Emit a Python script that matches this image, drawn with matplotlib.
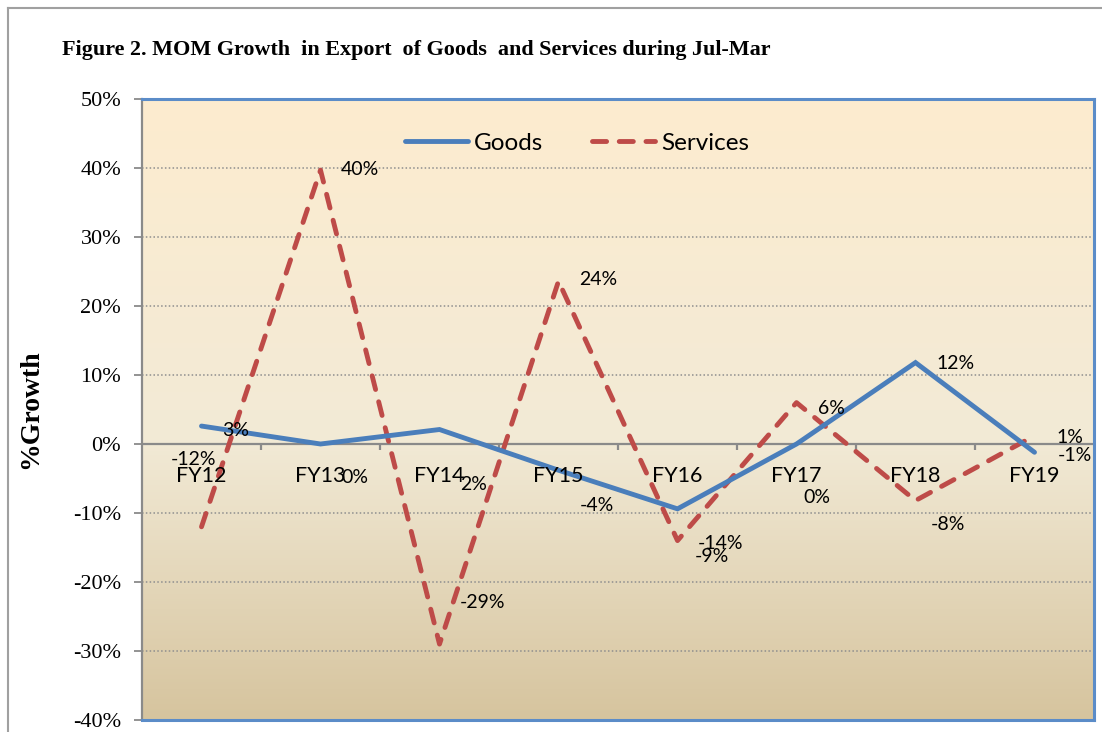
import numpy as np
import matplotlib
matplotlib.use("Agg")
import matplotlib.pyplot as plt
from matplotlib.lines import Line2D
from matplotlib.colors import LinearSegmentedColormap

# ---- data ----
categories = ["FY12", "FY13", "FY14", "FY15", "FY16", "FY17", "FY18", "FY19"]
goods = [2.6, 0.0, 2.1, -3.8, -9.4, 0.0, 11.8, -1.2]
services = [-12.0, 39.7, -29.0, 23.6, -14.0, 6.0, -8.2, 1.2]
goods_labels = ["3%", "0%", "2%", "-4%", "-9%", "0%", "12%", "-1%"]
services_labels = ["-12%", "40%", "-29%", "24%", "-14%", "6%", "-8%", "1%"]
yticks = [-40, -30, -20, -10, 0, 10, 20, 30, 40, 50]

# label placement (style): offsets in (category units, percentage points)
goods_lab_pos = [(0.29, 2.0), (1.29, -4.8), (2.29, -5.8), (3.32, -8.9),
                 (4.29, -16.3), (5.17, -7.7), (6.34, 11.6), (7.34, -1.6)]
serv_lab_pos = [(-0.07, -2.3), (1.33, 39.8), (2.36, -23.0), (3.33, 23.8),
                (4.36, -14.4), (5.29, 5.2), (6.27, -11.6), (7.30, 0.9)]

W, H = 1102, 732
fig = plt.figure(figsize=(W / 100, H / 100), dpi=100)
fig.patch.set_facecolor("white")

ax = fig.add_axes([142 / W, 1 - 720 / H, (1094 - 142) / W, (720 - 99) / H])
x = np.arange(len(categories))
ax.set_xlim(-0.5, len(categories) - 0.5)
ax.set_ylim(-40, 50)

# gradient background
cmap = LinearSegmentedColormap.from_list(
    "bg", [(0.0, (214/255, 196/255, 158/255)),
           (0.45, (242/255, 234/255, 214/255)),
           (1.0, (253/255, 236/255, 207/255))])
grad = np.linspace(0, 1, 256).reshape(-1, 1)
ax.imshow(grad, aspect="auto", cmap=cmap, origin="lower",
          extent=[-0.5, len(categories) - 0.5, -40, 50], zorder=0)

# grid lines
for v in yticks:
    if v not in (0, 50, -40):
        ax.axhline(v, color="#8e8e8e", lw=1.1, ls=(0, (1, 1.5)), zorder=1)
ax.axhline(0, color="#8a8a8a", lw=1.6, zorder=2)
# category boundary ticks on zero line
for b in np.arange(0.5, len(categories) - 1, 1.0):
    ax.plot([b, b], [0, -0.9], color="#8a8a8a", lw=1.6, zorder=2,
            solid_capstyle="butt")

sans = ["Lato", "DejaVu Sans"]
serif = ["Liberation Serif", "DejaVu Serif"]

# series
ax.plot(x, goods, color="#4A7EBB", lw=3.5, solid_joinstyle="miter",
        solid_capstyle="round", zorder=4, label="Goods")
ax.plot(x, services, color="#BE4B48", lw=3.5, ls=(0, (2.9, 2.6)),
        dash_capstyle="round", zorder=3, label="Services")

# data labels
for (px, py), t in zip(goods_lab_pos, goods_labels):
    ax.text(px, py, t, fontsize=14, family=sans, ha="center", va="center",
            zorder=6)
for (px, py), t in zip(serv_lab_pos, services_labels):
    ax.text(px, py, t, fontsize=14, family=sans, ha="center", va="center",
            zorder=6)

# category labels
for xi, c in zip(x, categories):
    ax.text(xi, -4.6, c, fontsize=15.5, family=sans, ha="center", va="center",
            zorder=6)

ax.set_xticks([])
ax.set_yticks(yticks)
ax.set_yticklabels([f"{v}%" for v in yticks], family=serif, fontsize=16)
ax.tick_params(axis="y", direction="out", length=6, width=1.3,
               color="#8a8a8a", pad=9)

for s in ["top", "right", "bottom"]:
    ax.spines[s].set_color("#5B8CC8")
    ax.spines[s].set_linewidth(2.2)
ax.spines["left"].set_color("#8a8a8a")
ax.spines["left"].set_linewidth(1.6)

ax.set_ylabel("%Growth", family=serif, fontsize=20, fontweight="bold")
ax.yaxis.set_label_coords(-(142 - 43) / (1094 - 142), 0.5)

leg = ax.legend(loc="center", bbox_to_anchor=((577 - 142) / (1094 - 142),
                                              (720 - 143) / (720 - 99)),
                ncol=2, frameon=False, prop={"family": "Lato", "size": 17.5},
                handlelength=2.6, handletextpad=0.25, columnspacing=2.0)

fig.text(62 / W, 1 - 50 / H,
         "Figure 2. MOM Growth  in Export  of Goods  and Services during Jul-Mar",
         family=serif, fontweight="bold", fontsize=15.9, ha="left", va="center")

# outer frame lines
fig.add_artist(Line2D([8 / W, 1.0], [1 - 8 / H, 1 - 8 / H],
                      transform=fig.transFigure, color="#a0a0a0", lw=1.5))
fig.add_artist(Line2D([8 / W, 8 / W], [0, 1 - 8 / H],
                      transform=fig.transFigure, color="#a0a0a0", lw=1.5))

fig.savefig("out.png", dpi=100)
